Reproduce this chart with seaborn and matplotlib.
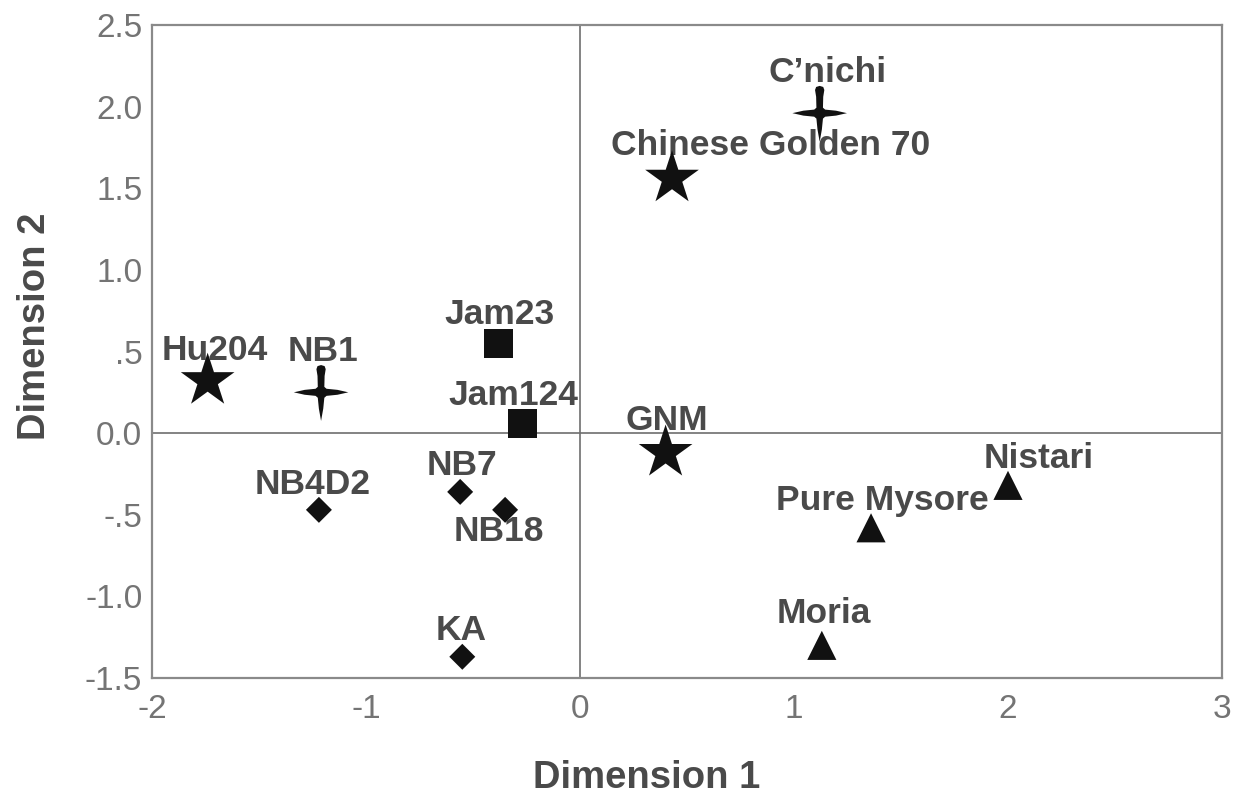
import numpy as np
import pandas as pd
import matplotlib
matplotlib.use("Agg")
import matplotlib.pyplot as plt
from matplotlib.path import Path
import seaborn as sns

# values
names = ["Hu204", "NB1", "C\u2019nichi", "Chinese Golden 70", "Jam23", "Jam124", "GNM",
         "NB4D2", "NB7", "NB18", "KA", "Nistari", "Pure Mysore", "Moria"]
dim1 = [-1.74, -1.21, 1.12, 0.43, -0.38, -0.27, 0.40, -1.22, -0.56, -0.35, -0.55, 2.00, 1.36, 1.13]
dim2 = [0.32, 0.25, 1.96, 1.56, 0.55, 0.06, -0.12, -0.47, -0.36, -0.47, -1.37, -0.32, -0.58, -1.30]
group = ["star", "cross", "cross", "star", "square", "square", "star",
         "diamond", "diamond", "diamond", "diamond", "triangle", "triangle", "triangle"]

x_ticks = [-2, -1, 0, 1, 2, 3]
x_ticklabels = ["-2", "-1", "0", "1", "2", "3"]
y_ticks = [-1.5, -1.0, -0.5, 0.0, 0.5, 1.0, 1.5, 2.0, 2.5]
y_ticklabels = ["-1.5", "-1.0", "-.5", "0.0", ".5", "1.0", "1.5", "2.0", "2.5"]

df = pd.DataFrame({"Dimension 1": dim1, "Dimension 2": dim2, "name": names, "group": group})

sns.set_style("white")
plt.rcParams["font.family"] = ["Liberation Sans", "DejaVu Sans"]
plt.rcParams["axes.unicode_minus"] = False

# thin four-pointed star marker, top arm a bit rounded
cross_verts = [(0, 1.0), (0.13, 0.96), (0.17, 0.85), (0.13, 0.6), (0.12, 0.2),
               (0.2, 0.13), (0.6, 0.09), (1.0, 0.0), (0.6, -0.09), (0.2, -0.13),
               (0.12, -0.2), (0.08, -0.6), (0, -1.05), (-0.08, -0.6), (-0.12, -0.2),
               (-0.2, -0.13), (-0.6, -0.09), (-1.0, 0.0), (-0.6, 0.09), (-0.2, 0.13),
               (-0.12, 0.2), (-0.13, 0.6), (-0.17, 0.85), (-0.13, 0.96), (0, 1.0)]
cross = Path(cross_verts, closed=True)

markers = {"star": "*", "cross": cross, "square": "s", "diamond": "D", "triangle": "^"}
sizes = {"star": 1650, "cross": 1700, "square": 440, "diamond": 175, "triangle": 440}

fig = plt.figure(figsize=(12.39, 8), dpi=100)
ax = fig.add_axes([152 / 1239, 122 / 800, 1070 / 1239, 653 / 800])

ax.axhline(0, color="#6e6e6e", lw=1.2, zorder=1)
ax.axvline(0, color="#6e6e6e", lw=1.2, zorder=1)

sns.scatterplot(data=df, x="Dimension 1", y="Dimension 2", style="group", markers=markers,
                size="group", sizes=sizes, color="#111111", linewidth=0, legend=False,
                ax=ax, zorder=3)

# label offsets in pixels (dx, dy) relative to each point
offsets = {"Hu204": (7, 30), "NB1": (2, 41), "C\u2019nichi": (8, 41), "Chinese Golden 70": (99, 33),
           "Jam23": (1, 29), "Jam124": (-9, 28), "GNM": (1, 32), "NB4D2": (-6, 25),
           "NB7": (2, 26), "NB18": (-6, -22), "KA": (-1, 26), "Nistari": (31, 27),
           "Pure Mysore": (11, 27), "Moria": (2, 32)}
for _, row in df.iterrows():
    ax.annotate(row["name"], (row["Dimension 1"], row["Dimension 2"]),
                xytext=offsets[row["name"]], textcoords="offset pixels",
                ha="center", va="center", fontsize=25.5, fontweight="bold",
                color="#4a4a4a", zorder=2)

ax.set_xlim(-2, 3)
ax.set_ylim(-1.5, 2.5)
ax.set_xticks(x_ticks, x_ticklabels)
ax.set_yticks(y_ticks, y_ticklabels)
ax.tick_params(axis="both", direction="out", length=4.5, width=1, color="#777777",
               labelsize=24, labelcolor="#747474")
ax.tick_params(axis="x", pad=7)
ax.tick_params(axis="y", pad=2.5)
for sp in ax.spines.values():
    sp.set_color("#8a8a8a")
    sp.set_linewidth(1.6)

ax.set_xlabel("Dimension 1", fontsize=27.5, fontweight="bold", color="#4a4a4a")
ax.set_ylabel("Dimension 2", fontsize=27.5, fontweight="bold", color="#4a4a4a")
ax.xaxis.set_label_coords((647 - 152) / 1070, -0.125)
ax.yaxis.set_label_coords((53 - 152) / 1070, (678 - 326) / 653)

fig.savefig("out.png", dpi=100, facecolor="white")
